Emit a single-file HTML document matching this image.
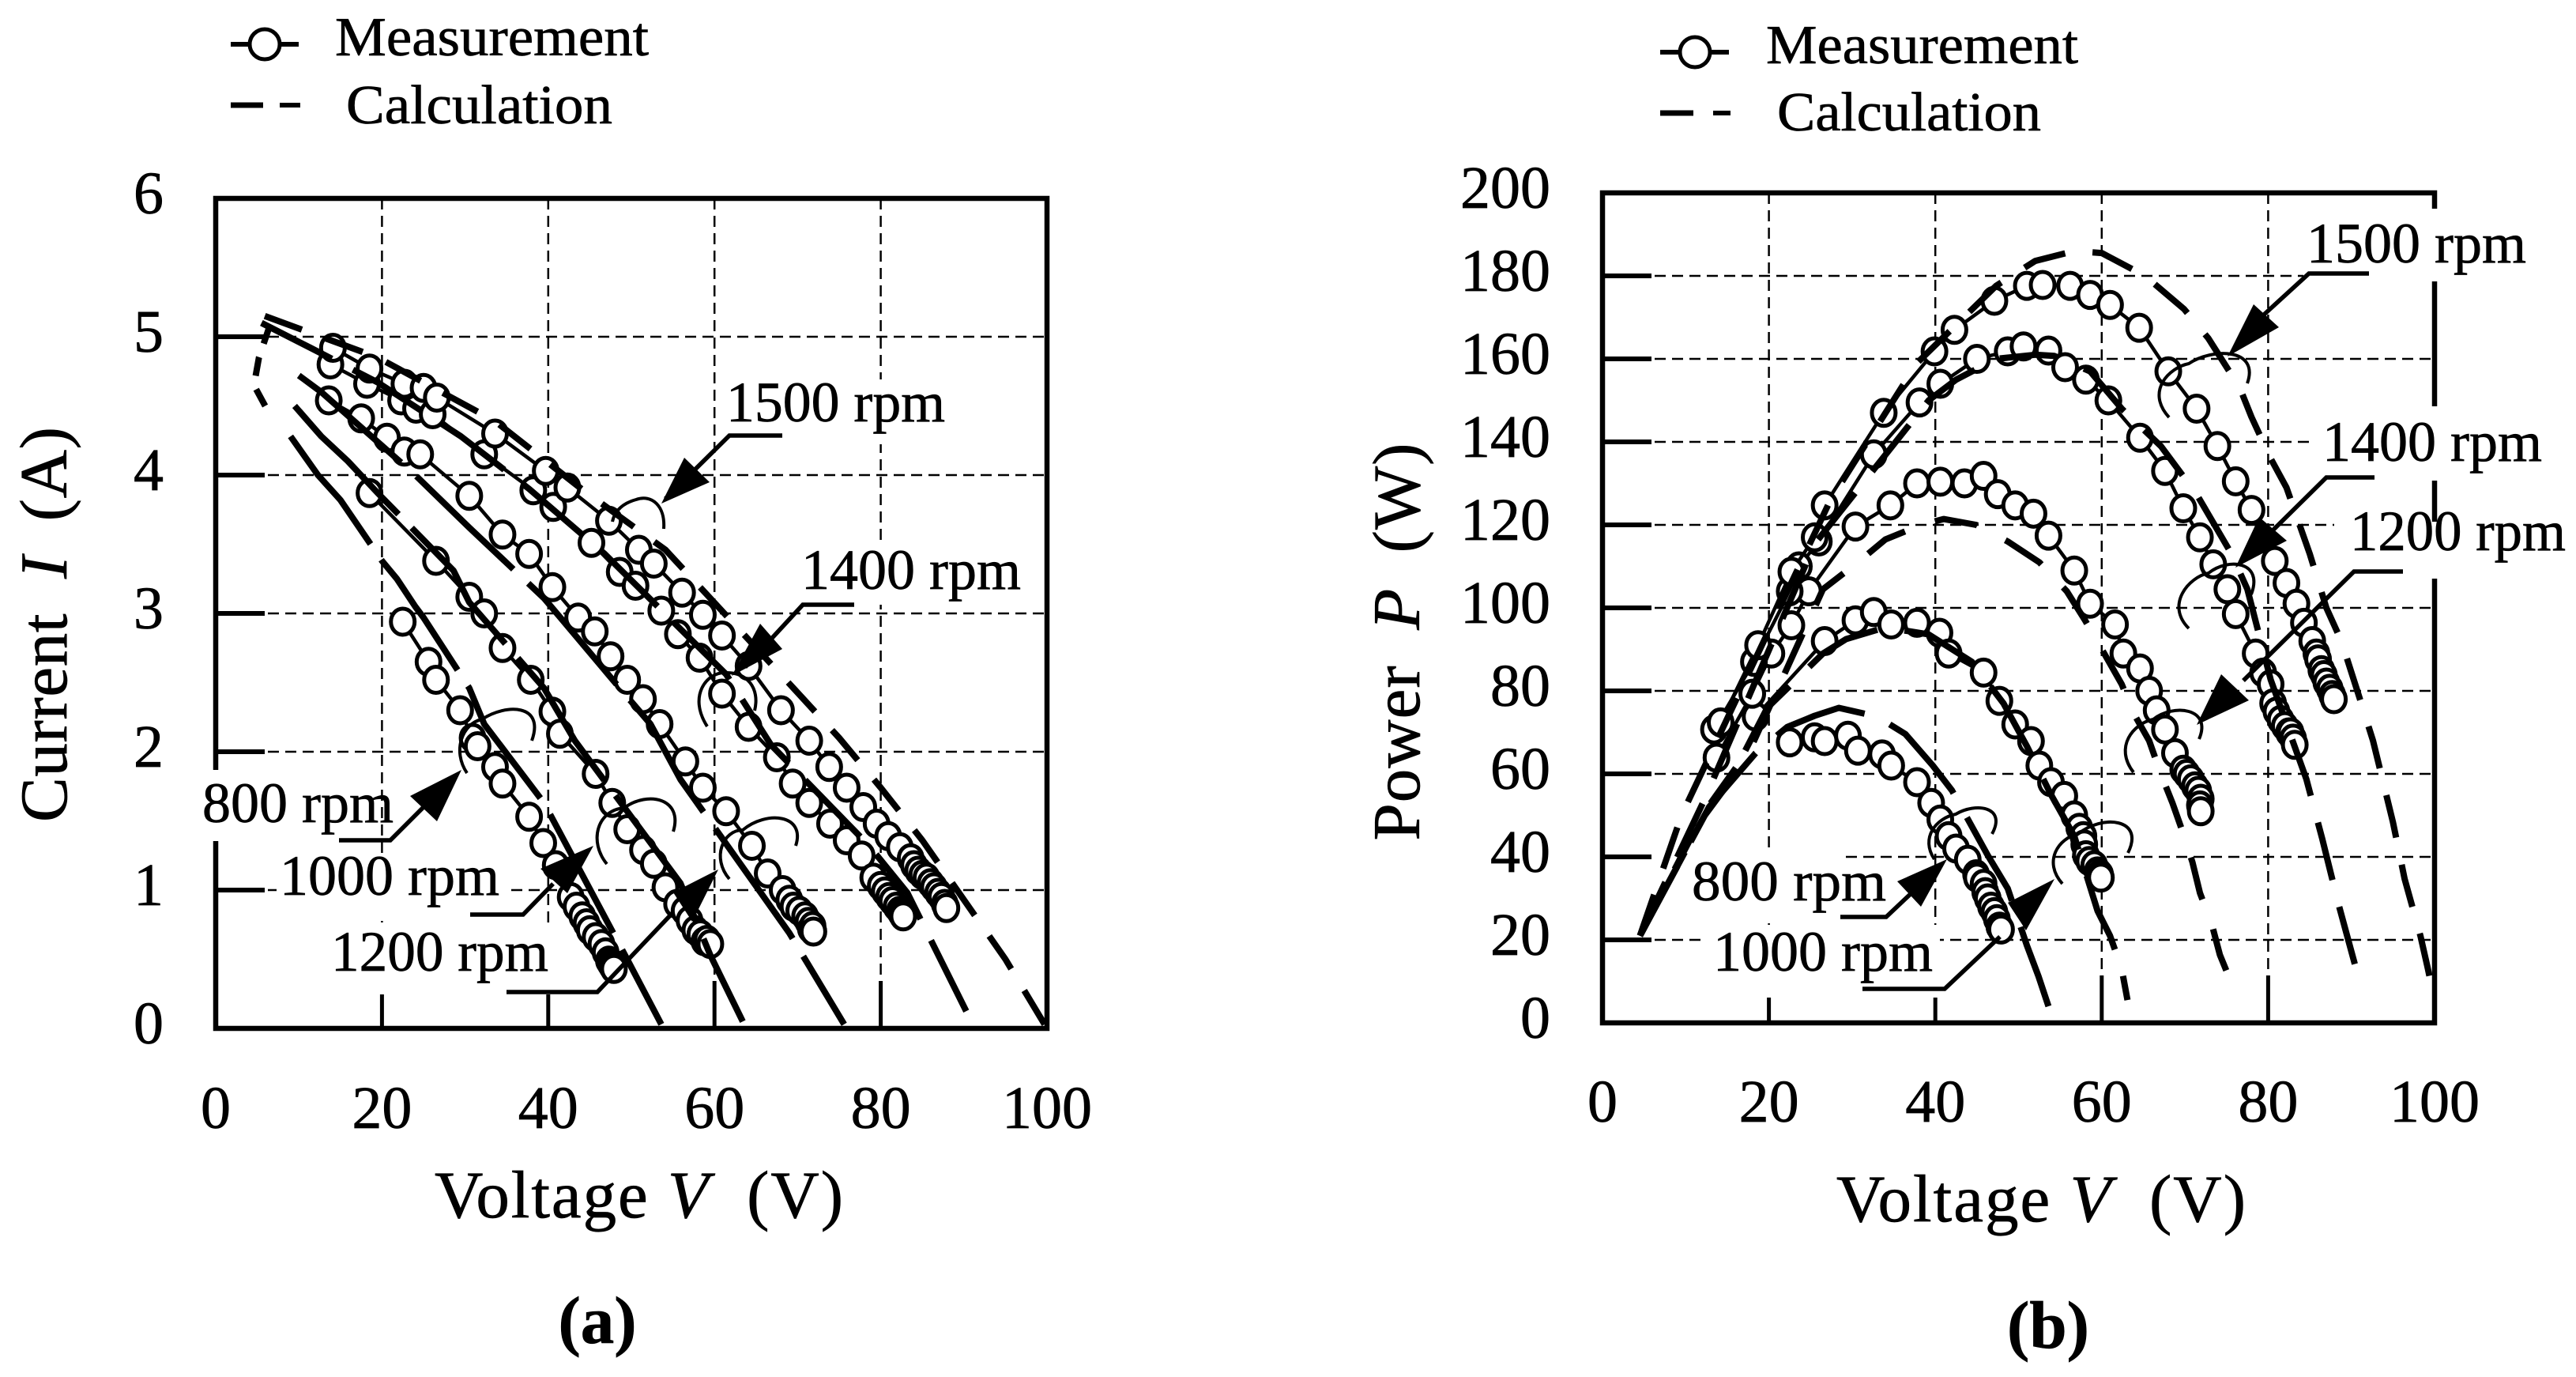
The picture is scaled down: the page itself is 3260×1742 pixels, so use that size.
<!DOCTYPE html>
<html lang="en">
<head>
<meta charset="utf-8">
<title>Current and power versus voltage</title>
<style>
html,body{margin:0;padding:0;background:#fff;}
svg{display:block;}
text{font-family:"Liberation Serif",serif;fill:#000;stroke:#000;stroke-width:0.7px;}
</style>
</head>
<body>
<svg id="figure" xmlns="http://www.w3.org/2000/svg" width="3260" height="1742" viewBox="0 0 3260 1742">
  <rect width="3260" height="1742" fill="#fff"/>
  <g id="panel-a"></g>
  <g id="panel-b"></g>
</svg>
<script>
/* ---------- shared axis values ---------- */
const voltageTicks = [0, 20, 40, 60, 80, 100];
const currentTicks = [0, 1, 2, 3, 4, 5, 6];
const powerTicks = [0, 20, 40, 60, 80, 100, 120, 140, 160, 180, 200];

/* ---------- panel (a): measured [V, I] ---------- */
const currentMeasured1500 = [[14.1,4.92],[18.5,4.77],[22.7,4.66],[25,4.63],[26.6,4.56],[33.6,4.3],[39.7,4.03],[42.3,3.91],[47.3,3.67],[50.9,3.46],[52.7,3.36],[56.1,3.15],[58.6,2.99],[60.9,2.84],[64.1,2.62],[68,2.3],[71.4,2.08],[73.8,1.89],[75.9,1.74],[77.9,1.6],[79.5,1.48],[80.9,1.39],[82.3,1.31],[83.6,1.23],[84,1.18],[84.5,1.14],[85,1.11],[85.5,1.09],[86,1.05],[86.4,1.02],[86.9,0.98],[87.3,0.95],[87.7,0.9],[87.9,0.87]];
const currentMeasured1400 = [[13.8,4.8],[18.2,4.66],[22.3,4.54],[24.1,4.48],[26.1,4.44],[32.3,4.15],[38.2,3.89],[40.6,3.77],[45.2,3.51],[48.6,3.3],[50.5,3.2],[53.6,3.02],[55.6,2.85],[58.2,2.68],[60.9,2.42],[64.1,2.18],[67.5,1.96],[69.4,1.77],[71.4,1.63],[73.9,1.48],[75.9,1.36],[77.7,1.25],[79.1,1.09],[80,1.03],[80.5,0.99],[81,0.95],[81.4,0.92],[81.9,0.88],[82.3,0.85],[82.5,0.83],[82.7,0.81]];
const currentMeasured1200 = [[13.6,4.54],[17.5,4.41],[20.6,4.27],[22.7,4.17],[24.6,4.15],[30.5,3.85],[34.5,3.57],[37.7,3.43],[40.5,3.19],[43.6,2.97],[45.6,2.87],[47.5,2.69],[49.5,2.52],[51.4,2.38],[53.4,2.2],[56.5,1.93],[58.6,1.74],[61.4,1.57],[64.5,1.32],[66.4,1.12],[68.2,1],[69,0.93],[69.5,0.88],[70.2,0.85],[70.9,0.81],[71.3,0.77],[71.6,0.72],[71.8,0.74],[71.9,0.7]];
const currentMeasured1000 = [[18.5,3.87],[26.5,3.38],[30.5,3.12],[32.3,3],[34.5,2.75],[37.9,2.52],[40.5,2.29],[41.4,2.13],[45.7,1.84],[47.7,1.63],[49.5,1.44],[51.4,1.29],[52.7,1.19],[54.1,1.02],[55.5,0.9],[56.4,0.85],[57,0.78],[57.7,0.71],[58.3,0.68],[58.8,0.63],[59.1,0.64],[59.5,0.61]];
const currentMeasured800 = [[22.5,2.94],[25.6,2.65],[26.5,2.52],[29.4,2.3],[30.9,2.1],[31.5,2.04],[33.6,1.89],[34.5,1.77],[37.7,1.53],[39.4,1.34],[40.9,1.18],[42.7,0.95],[43.4,0.88],[44.1,0.81],[44.6,0.76],[45,0.71],[45.7,0.66],[46.4,0.61],[46.9,0.55],[47.3,0.49],[47.5,0.47],[47.7,0.45],[47.9,0.43]];

/* ---------- panel (a): calculated [V, I] ---------- */
const currentCalculated1500 = [[5.9,5.15],[19.5,4.85],[33.6,4.39],[44,3.9],[54.1,3.46],[69.5,2.46],[75,2.1],[80,1.74],[85,1.36],[95,0.5],[100,0]];
const currentCalculated1400 = [[5.5,5.1],[11.4,4.92],[19.5,4.67],[29.5,4.28],[37.7,3.9],[46.8,3.43],[61.4,2.56],[66.8,2.05],[78.6,1.32],[83.2,0.98],[90.9,0.05]];
const currentCalculated1200 = [[10,4.72],[12.7,4.6],[24,4],[30.5,3.62],[39.5,3.11],[48.6,2.46],[52.3,2.2],[55.9,1.8],[69,0.69],[75.6,0.03]];
const currentCalculated1000 = [[9.5,4.5],[12.7,4.28],[15.9,4.1],[19.5,3.87],[28.6,3.31],[30.5,3.08],[39.5,2.46],[43.2,2.08],[55.9,1.05],[59.5,0.53],[63.4,0.05]];
const currentCalculated800 = [[9,4.28],[12.3,4],[15,3.82],[20,3.38],[21.8,3.25],[24,3.05],[25,2.97],[30.5,2.46],[32.3,2.2],[39.5,1.63],[49.5,0.5],[53.6,0.03]];
const currentCalculatedStart = [[6.5,5.08],[5.2,4.85],[4.6,4.65],[6.4,4.45]];

/* ---------- panel (b): measured [V, P] ---------- */
const powerMeasured1500 = [[14.2,72.4],[18.7,91],[22.7,108.7],[25.5,117],[26.7,124.7],[33.8,147],[39.9,161.8],[42.3,167],[47.1,174],[51,177.6],[52.9,177.8],[56.2,177.6],[58.6,175.4],[61,173],[64.5,167.5],[68,157],[71.4,148],[73.9,139],[76.1,130.5],[78,123.6],[80.8,111.3],[82.2,106],[83.4,101],[84.3,96.4],[85.3,92],[85.8,89],[86,87.6],[86.4,85],[86.7,83.8],[87,82],[87.4,80.5],[87.7,79],[87.9,78]];
const powerMeasured1400 = [[13.4,70.7],[18.2,87],[22.5,104],[23.6,110],[26,116],[32.6,137],[38.1,149.5],[40.6,154],[45,160],[48.7,161.8],[50.6,163],[53.6,162],[55.6,158],[58.1,155],[60.8,150],[64.6,141],[67.6,133],[69.8,124],[71.8,117],[73.4,110.5],[75.1,104.5],[76.1,98.5],[78.5,89],[79.4,84.4],[80.3,81.6],[80.6,77],[81,75],[81.5,73],[82,71.5],[82.5,70],[82.7,70],[83,68.5],[83.2,67]];
const powerMeasured1200 = [[13.7,63.9],[18,79.3],[20.3,89],[22.7,95.8],[24.8,104],[30.4,119.6],[34.6,124.7],[37.8,130],[40.6,130.4],[43.5,130],[45.8,131.8],[47.5,127.4],[49.6,124.7],[51.8,122.7],[53.6,117.4],[56.7,109],[58.6,101],[61.6,96],[62.6,89],[64.6,85.4],[65.7,80],[66.6,75.3],[67.6,70.7],[68.8,65],[69.8,61],[70.2,60],[70.7,58.7],[71.2,57],[71.6,55.9],[71.9,54],[71.8,52.4],[71.9,51]];
const powerMeasured1000 = [[18.4,73.8],[26.7,92],[30.4,97],[32.6,99],[34.7,96],[37.8,96.4],[40.5,94],[41.6,89],[45.8,84.4],[47.7,77.6],[49.6,71.9],[51.5,67.9],[52.5,62],[53.9,58],[55.5,54.7],[56.7,50],[57.3,47],[57.8,45],[57.9,43],[58.1,40.4],[58.5,39],[59.1,38],[59.5,36.5],[59.8,35.8],[59.9,35]];
const powerMeasured800 = [[22.5,67.6],[25.5,68.8],[26.7,67.9],[29.5,69.2],[30.7,65.6],[33.6,64.7],[34.7,62],[37.8,58],[39.5,53],[40.6,49],[41.6,45],[42.5,42],[43.9,39.3],[44.9,35.8],[45,35],[45.8,33.5],[46,31.5],[46.3,30],[46.7,28],[47.1,26.7],[47.4,25],[47.7,23.2],[47.9,22.5]];

/* ---------- panel (b): calculated [V, P] ---------- */
const powerCalculated1500 = [[4.5,21],[9.5,50],[27.4,126],[37.8,159],[47.3,177.6],[52,183.6],[56.7,186],[60,185.5],[65.2,180],[69.9,172],[72.8,165],[76.6,153],[78,146],[80.3,136],[82.2,129],[85,113],[87,100],[88.8,92],[91.2,77],[92.6,68],[95,48.4],[96.4,34.7],[98.3,21],[99.2,13],[100,5.5]];
const powerCalculated1400 = [[4.5,21],[12.3,54],[25.5,115.4],[39.2,150],[42.5,155],[47.3,160],[52,161],[54.3,160.7],[58.6,157],[62.4,148],[67.1,139],[71.4,127.4],[75.6,113],[77.5,104.5],[80.3,82.7],[84.6,58.7],[86.5,44.4],[88.4,29],[90.3,15],[91.2,8.4]];
const powerCalculated1200 = [[4.5,21],[12.3,51],[18,67],[26.5,104.5],[30.7,111],[34,116.5],[38.3,120],[41,121.4],[44.9,120],[48.7,116],[52.5,111],[55.8,104],[58,97],[60.3,89],[62.4,81.6],[63.8,74.7],[65.7,68],[67.1,60],[68.5,53],[69.8,45.6],[70.9,38.7],[71.8,31.3],[73.2,24],[74.2,16.4],[75.6,9.5],[75.8,5.5]];
const powerCalculated1000 = [[4.5,21],[12.3,50],[15.1,57.6],[19.8,75.9],[26.5,89],[29.3,92.5],[34,95.3],[39.2,93.6],[44.4,87],[48.2,77],[51,66.7],[53.9,55],[56.7,45],[59.5,27],[61,21],[62.4,13],[63.1,5.5]];
const powerCalculated800 = [[4.5,21],[12.8,52],[18.4,65],[22.2,71.3],[25.5,74],[28.4,75.9],[33,73.8],[36.4,69.6],[39.7,62],[42,56],[46.3,40.4],[48.7,32.4],[51,18.7],[52.4,11.2],[53.6,4]];

const NS = 'http://www.w3.org/2000/svg';
function make(tag, parent, attrs) {
  const el = document.createElementNS(NS, tag);
  for (const k in attrs) el.setAttribute(k, attrs[k]);
  parent.appendChild(el);
  return el;
}
function pathFrom(points, xs, ys) {
  return points.map(function (p, i) {
    return (i ? 'L' : 'M') + xs(p[0]).toFixed(1) + ',' + ys(p[1]).toFixed(1);
  }).join(' ');
}

function drawAxes(g, xs, ys, yTicks, box, opts) {
  /* gridlines */
  voltageTicks.slice(1, -1).forEach(function (v) {
    const line = make('line', g, {x1: xs(v), x2: xs(v), y1: box.top, y2: box.bottom, stroke: '#000', 'stroke-width': 2.5, 'stroke-dasharray': '14 8'});
    
    
    const tick = make('line', g, {x1: xs(v), x2: xs(v), y1: box.bottom - 60, y2: box.bottom, stroke: '#000', 'stroke-width': 5});
    
    
  });
  yTicks.slice(1, -1).forEach(function (t) {
    const line = make('line', g, {x1: box.left, x2: box.right, y1: ys(t), y2: ys(t), stroke: '#000', 'stroke-width': 2.5, 'stroke-dasharray': '14 8'});
    
    
    const tick = make('line', g, {x1: box.left, x2: box.left + 62, y1: ys(t), y2: ys(t), stroke: '#000', 'stroke-width': 6});
    
    
  });
  const frame = make('rect', g, {x: box.left, y: box.top, width: box.right - box.left, height: box.bottom - box.top, fill: 'none', stroke: '#000', 'stroke-width': 6.5});
  
  
  /* tick labels */
  voltageTicks.forEach(function (v) {
    const t = make('text', g, {x: xs(v), y: opts.xLabelY, 'font-size': 76, 'text-anchor': 'middle'});
    t.textContent = v;
    
    
  });
  yTicks.forEach(function (v) {
    const t = make('text', g, {x: opts.yLabelX, y: ys(v) + 19, 'font-size': 76, 'text-anchor': 'end'});
    t.textContent = v;
    
    
  });
}

function whiteBoxes(g, boxes) {
  boxes.forEach(function (b) {
    const r = make('rect', g, {x: b[0], y: b[1], width: b[2] - b[0], height: b[3] - b[1], fill: '#fff'});
    
    
  });
}

function drawMeasured(g, points, xs, ys) {
  const line = make('path', g, {d: pathFrom(points, xs, ys), fill: 'none', stroke: '#000', 'stroke-width': 4.5});
  
  
  points.forEach(function (p) {
    const c = make('ellipse', g, {cx: xs(p[0]), cy: ys(p[1]), rx: 15, ry: 16.5, fill: '#fff', stroke: '#000', 'stroke-width': 5});
    
    
  });
}

function drawCalculated(g, points, xs, ys, dash) {
  const line = make('path', g, {d: pathFrom(points, xs, ys), fill: 'none', stroke: '#000', 'stroke-width': 8, 'stroke-dasharray': dash, 'stroke-linejoin': 'round'});
  
  
}

function drawLabel(g, text, x, y, w) {
  const t = make('text', g, {x: x, y: y, 'font-size': 72, textLength: w, lengthAdjust: 'spacingAndGlyphs'});
  t.textContent = text;
  
  
}
function drawCallout(g, leader, tri, arc) {
  const l = make('polyline', g, {points: leader, fill: 'none', stroke: '#000', 'stroke-width': 5.5});
  
  
  const a = make('polygon', g, {points: tri, fill: '#000'});
  
  
  const c = make('path', g, {d: arc, fill: 'none', stroke: '#000', 'stroke-width': 4});
  
  
}
function drawLegend(g, mx, my, x0, x1, tx1, ty1, tw1, tx2, ty2, tw2, dy, d1, d2, d3, d4) {
  const ln = make('line', g, {x1: x0, x2: x1, y1: my, y2: my, stroke: '#000', 'stroke-width': 6});
  
  
  const c = make('circle', g, {cx: mx, cy: my, r: 19, fill: '#fff', stroke: '#000', 'stroke-width': 5});
  
  
  const t1 = make('text', g, {x: tx1, y: ty1, 'font-size': 70, textLength: tw1, lengthAdjust: 'spacingAndGlyphs'});
  t1.textContent = 'Measurement';
  
  
  const s1 = make('line', g, {x1: d1, x2: d2, y1: dy, y2: dy, stroke: '#000', 'stroke-width': 7});
  
  
  const s2 = make('line', g, {x1: d3, x2: d4, y1: dy, y2: dy, stroke: '#000', 'stroke-width': 6});
  
  
  const t2 = make('text', g, {x: tx2, y: ty2, 'font-size': 70, textLength: tw2, lengthAdjust: 'spacingAndGlyphs'});
  t2.textContent = 'Calculation';
  
  
}
function drawTitles(g, xTitleX, xTitleY, xTitleW, yBase, yCenter, yLen, yWord, yVar, yUnit, capX, capY, capText) {
  const x = make('text', g, {x: xTitleX, y: xTitleY, 'font-size': 85, textLength: xTitleW, 'xml:space': 'preserve'});
  
  
  const a = make('tspan', x, {});
  a.textContent = 'Voltage\u00a0';
  const b = make('tspan', x, {'font-style': 'italic'});
  b.textContent = 'V';
  const c = make('tspan', x, {});
  c.textContent = '\u00a0\u00a0(V)';
  const y = make('text', g, {transform: 'translate(' + yBase + ',' + yCenter + ') rotate(-90)', 'text-anchor': 'middle', 'font-size': 85, textLength: yLen});
  
  
  const d = make('tspan', y, {});
  d.textContent = yWord + '\u00a0\u00a0';
  const e = make('tspan', y, {'font-style': 'italic'});
  e.textContent = yVar;
  const f = make('tspan', y, {});
  f.textContent = '\u00a0\u00a0' + yUnit;
  const cap = make('text', g, {x: capX, y: capY, 'font-size': 85, 'font-weight': 'bold', 'text-anchor': 'middle'});
  cap.textContent = capText;
  
  
}

/* ===== Panel (a) ===== */
(function () {
  const g = document.getElementById('panel-a');
  const box = {left: 273, right: 1325, top: 251, bottom: 1301};
  const xs = function (v) { return box.left + v * (box.right - box.left) / 100; };
  const ys = function (i) { return box.bottom - i * (box.bottom - box.top) / 6; };
  drawLegend(g, 335, 56, 292, 378, 424, 70, 397, 438, 156, 337, 133, 292, 333, 354, 380);
  drawAxes(g, xs, ys, currentTicks, box, {xLabelY: 1427, yLabelX: 207});
  whiteBoxes(g, [[915,480,1200,562],[1010,690,1296,765],[250,974,470,1064],[350,1080,640,1165],[415,1170,700,1258]]);
  drawTitles(g, 550, 1540, 517, 84, 790, 500, 'Current', 'I', '(A)', 756, 1699, '(a)');
  [currentMeasured800, currentMeasured1000, currentMeasured1200, currentMeasured1400, currentMeasured1500].forEach(function (s) { drawMeasured(g, s, xs, ys); });
  drawCalculated(g, currentCalculated1500, xs, ys, '50 32');
  drawCalculated(g, currentCalculated1400, xs, ys, '100 30');
  drawCalculated(g, currentCalculated1200, xs, ys, '170 26');
  drawCalculated(g, currentCalculated1000, xs, ys, '190 24');
  drawCalculated(g, currentCalculated800, xs, ys, '170 24');
  drawCalculated(g, currentCalculatedStart, xs, ys, '24 18');
  drawLabel(g, '1500 rpm', 919, 533, 277);
  drawLabel(g, '1400 rpm', 1014, 745, 278);
  drawLabel(g, '800 rpm', 256, 1040, 242);
  drawLabel(g, '1000 rpm', 354, 1132, 278);
  drawLabel(g, '1200 rpm', 419, 1228, 275);
  drawCallout(g, '990,551 923,551 842,631', '837,637 866,579 898,610', 'M840,669 C842,640 825,625 805,632 C790,636 778,645 775,660');
  drawCallout(g, '1081,765 1016,765 943,844', '926,855 962,789 990,821', 'M895,919 C870,880 895,850 918,851 C945,850 962,870 955,899');
  drawCallout(g, '429,1063 494,1063 565,992', '584,974 519,1007 553,1039', 'M591,978 C572,950 585,915 610,910 C640,890 690,890 673,937');
  drawCallout(g, '595,1157 662,1157 700,1118', '751,1070 684,1099 718,1130', 'M768,1093 C745,1065 755,1025 790,1022 C820,1000 865,1010 852,1052');
  drawCallout(g, '641,1255 756,1255 852,1154', '909,1100 852,1129 876,1166', 'M923,1112 C900,1085 915,1050 940,1050 C970,1025 1020,1030 1007,1070');
})();

/* ===== Panel (b) ===== */
(function () {
  const g = document.getElementById('panel-b');
  const box = {left: 2028, right: 3081, top: 244, bottom: 1294};
  const xs = function (v) { return box.left + v * (box.right - box.left) / 100; };
  const ys = function (p) { return box.bottom - p * (box.bottom - box.top) / 200; };
  drawLegend(g, 2145, 66, 2101, 2188, 2235, 80, 395, 2249, 165, 334, 143, 2101, 2143, 2168, 2190);
  drawAxes(g, xs, ys, powerTicks, box, {xLabelY: 1419, yLabelX: 1962});
  whiteBoxes(g, [[2915,264,3200,356],[2930,514,3220,608],[2954,660,3250,732],[2092,1073,2335,1165],[2160,1170,2455,1262]]);
  drawTitles(g, 2324, 1545, 518, 1796, 812, 503, 'Power', 'P', '(W)', 2592, 1705, '(b)');
  [powerMeasured800, powerMeasured1000, powerMeasured1200, powerMeasured1400, powerMeasured1500].forEach(function (s) { drawMeasured(g, s, xs, ys); });
  drawCalculated(g, powerCalculated1500, xs, ys, '55 35');
  drawCalculated(g, powerCalculated1400, xs, ys, '75 35');
  drawCalculated(g, powerCalculated1200, xs, ys, '55 40');
  drawCalculated(g, powerCalculated1000, xs, ys, '100 35');
  drawCalculated(g, powerCalculated800, xs, ys, '120 35');
  drawLabel(g, '1500 rpm', 2919, 332, 278);
  drawLabel(g, '1400 rpm', 2939, 583, 278);
  drawLabel(g, '1200 rpm', 2974, 696, 273);
  drawLabel(g, '800 rpm', 2141, 1139, 246);
  drawLabel(g, '1000 rpm', 2168, 1228, 278);
  drawCallout(g, '2998,346 2922,346 2864,399', '2819,451 2852,385 2884,414', 'M2745,528 C2715,495 2745,465 2770,460 C2800,440 2860,440 2844,485');
  drawCallout(g, '3005,604 2944,604 2864,683', '2829,718 2859,654 2894,684', 'M2770,795 C2740,765 2770,730 2795,725 C2820,705 2865,710 2849,752');
  drawCallout(g, '3041,723 2979,723 2839,861', '2780,917 2811,853 2846,886', 'M2700,977 C2675,945 2700,915 2725,910 C2750,890 2800,895 2783,935');
  drawCallout(g, '2329,1160 2387,1160 2440,1110', '2464,1087 2401,1115 2431,1147', 'M2448,1087 C2430,1060 2450,1035 2475,1030 C2500,1015 2540,1020 2521,1055');
  drawCallout(g, '2357,1251 2461,1251 2531,1185', '2600,1112 2541,1142 2564,1177', 'M2610,1118 C2585,1090 2605,1060 2630,1055 C2660,1030 2715,1035 2693,1079');
})();
</script>
</body>
</html>
